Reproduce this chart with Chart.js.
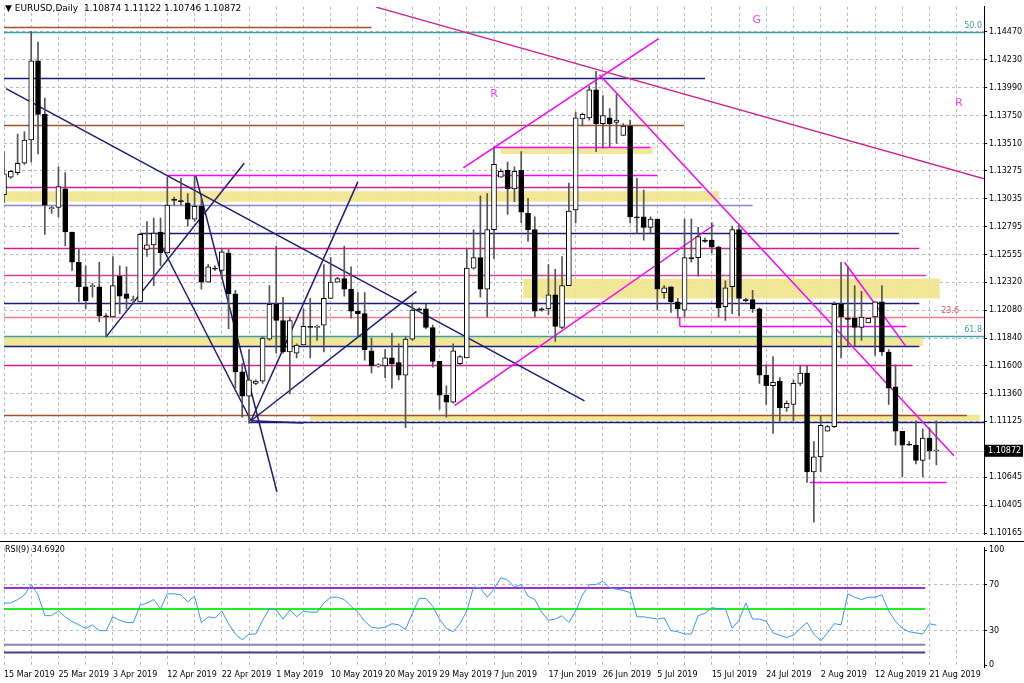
<!DOCTYPE html>
<html>
<head>
<meta charset="utf-8">
<script src="https://cdn.jsdelivr.net/npm/chart.js@4.4.0/dist/chart.umd.min.js"></script>
<style>
  body { margin: 0; background: #fff; width: 1024px; height: 683px; overflow: hidden; }
  #wrapMain { position: absolute; left: 0; top: 0; width: 1024px; height: 541px; }
  #wrapRsi { position: absolute; left: 0; top: 541px; width: 1024px; height: 142px; }
</style>
</head>
<body>
<div id="wrapMain"><canvas id="priceChart"></canvas></div>
<div id="wrapRsi"><canvas id="rsiChart"></canvas></div>
<script>
// EURUSD daily, 15 Mar - 21 Aug 2019 (MT4 bars incl. Sunday candles)
const dateLabels = ['15 Mar 2019', '25 Mar 2019', '3 Apr 2019', '12 Apr 2019', '22 Apr 2019', '1 May 2019',
  '10 May 2019', '20 May 2019', '29 May 2019', '7 Jun 2019', '17 Jun 2019', '26 Jun 2019', '5 Jul 2019',
  '15 Jul 2019', '24 Jul 2019', '2 Aug 2019', '12 Aug 2019', '21 Aug 2019'];

const opens = [1.1307,1.1322,1.1326,1.1334,1.1354,1.1422,1.1376,1.1295,1.1296,1.1312,
  1.1275,1.1249,1.1228,1.1228,1.1228,1.1203,1.1202,1.1237,1.1222,1.1216,
  1.1215,1.1260,1.1264,1.1275,1.1257,1.1303,1.1302,1.1300,1.1286,1.1297,
  1.1232,1.1244,1.1242,1.1257,1.1222,1.1155,1.1134,1.1145,1.1147,1.1183,
  1.1213,1.1199,1.1172,1.1171,1.1178,1.1194,1.1193,1.1195,1.1218,1.1232,
  1.1235,1.1226,1.1207,1.1205,1.1173,1.1160,1.1160,1.1167,1.1163,1.1152,
  1.1183,1.1209,1.1209,1.1193,1.1164,1.1135,1.1129,1.1162,1.1167,1.1244,
  1.1253,1.1226,1.1277,1.1322,1.1328,1.1312,1.1328,1.1291,1.1277,1.1209,
  1.1209,1.1221,1.1193,1.1229,1.1294,1.1372,1.1373,1.1397,1.1368,1.1373,
  1.1369,1.1358,1.1366,1.1288,1.1288,1.1279,1.1286,1.1223,1.1228,1.1215,
  1.1208,1.1253,1.1253,1.1268,1.1268,1.1262,1.1211,1.1228,1.1277,1.1217,
  1.1217,1.1209,1.1152,1.1143,1.1147,1.1124,1.1127,1.1145,1.1154,1.1069,
  1.1082,1.1104,1.1108,1.1213,1.1201,1.1201,1.1193,1.1197,1.1202,1.1215,
  1.1172,1.1142,1.1104,1.1093,1.1092,1.1079,1.1098,1.1087];
const highs = [1.1344,1.1328,1.1359,1.1361,1.1447,1.1438,1.1390,1.1297,1.1331,1.1326,
  1.1275,1.1260,1.1246,1.1231,1.1249,1.1205,1.1254,1.1246,1.1245,1.1220,
  1.1274,1.1284,1.1287,1.1287,1.1322,1.1305,1.1321,1.1308,1.1323,1.1304,
  1.1247,1.1246,1.1261,1.1260,1.1225,1.1162,1.1174,1.1148,1.1185,1.1229,
  1.1263,1.1219,1.1202,1.1179,1.1209,1.1218,1.1195,1.1247,1.1253,1.1236,
  1.1263,1.1245,1.1223,1.1223,1.1184,1.1162,1.1174,1.1188,1.1179,1.1185,
  1.1213,1.1210,1.1213,1.1195,1.1164,1.1143,1.1179,1.1169,1.1261,1.1277,
  1.1306,1.1308,1.1348,1.1329,1.1335,1.1331,1.1344,1.1304,1.1288,1.1210,
  1.1247,1.1243,1.1254,1.1317,1.1378,1.1377,1.1400,1.1413,1.1392,1.1381,
  1.1393,1.1368,1.1371,1.1321,1.1311,1.1288,1.1286,1.1229,1.1228,1.1218,
  1.1286,1.1286,1.1279,1.1270,1.1283,1.1263,1.1233,1.1280,1.1281,1.1218,
  1.1225,1.1210,1.1161,1.1168,1.1150,1.1130,1.1148,1.1160,1.1160,1.1095,
  1.1117,1.1109,1.1215,1.1249,1.1245,1.1229,1.1224,1.1201,1.1215,1.1229,
  1.1174,1.1161,1.1104,1.1095,1.1113,1.1106,1.1107,1.1113];
const lows = [1.1300,1.1321,1.1324,1.1333,1.1335,1.1342,1.1273,1.1291,1.1288,1.1263,
  1.1242,1.1215,1.1209,1.1219,1.1198,1.1185,1.1202,1.1205,1.1209,1.1213,
  1.1215,1.1254,1.1229,1.1246,1.1257,1.1298,1.1298,1.1280,1.1284,1.1226,
  1.1232,1.1242,1.1235,1.1192,1.1141,1.1116,1.1111,1.1144,1.1145,1.1182,
  1.1171,1.1171,1.1136,1.1167,1.1178,1.1167,1.1182,1.1172,1.1218,1.1232,
  1.1220,1.1201,1.1186,1.1165,1.1154,1.1159,1.1150,1.1141,1.1148,1.1107,
  1.1182,1.1207,1.1192,1.1159,1.1123,1.1116,1.1128,1.1161,1.1167,1.1243,
  1.1219,1.1202,1.1252,1.1322,1.1290,1.1301,1.1283,1.1267,1.1202,1.1207,
  1.1204,1.1181,1.1192,1.1229,1.1283,1.1366,1.1371,1.1344,1.1347,1.1348,
  1.1351,1.1358,1.1283,1.1274,1.1268,1.1274,1.1208,1.1218,1.1206,1.1201,
  1.1202,1.1249,1.1237,1.1266,1.1257,1.1202,1.1199,1.1205,1.1203,1.1215,
  1.1206,1.1145,1.1127,1.1102,1.1113,1.1121,1.1113,1.1143,1.1060,1.1026,
  1.1069,1.1104,1.1107,1.1167,1.1177,1.1177,1.1182,1.1197,1.1169,1.1169,
  1.1127,1.1092,1.1065,1.1092,1.1076,1.1065,1.1080,1.1075];
const closes = [1.1325,1.1327,1.1334,1.1354,1.1422,1.1376,1.1298,1.1296,1.1314,1.1275,
  1.1249,1.1228,1.1216,1.1229,1.1203,1.1202,1.1229,1.1220,1.1218,1.1217,
  1.1273,1.1264,1.1274,1.1257,1.1298,1.1302,1.1301,1.1286,1.1297,1.1232,
  1.1245,1.1243,1.1258,1.1222,1.1155,1.1134,1.1148,1.1147,1.1184,1.1213,
  1.1199,1.1172,1.1199,1.1178,1.1194,1.1193,1.1194,1.1218,1.1232,1.1235,
  1.1226,1.1207,1.1205,1.1174,1.1160,1.1161,1.1167,1.1162,1.1152,1.1183,
  1.1208,1.1208,1.1193,1.1164,1.1135,1.1129,1.1173,1.1168,1.1244,1.1253,
  1.1226,1.1277,1.1333,1.1327,1.1312,1.1327,1.1292,1.1277,1.1207,1.1208,
  1.1221,1.1194,1.1229,1.1293,1.1373,1.1376,1.1397,1.1368,1.1375,1.1368,
  1.1371,1.1366,1.1288,1.1287,1.1279,1.1286,1.1226,1.1227,1.1215,1.1209,
  1.1253,1.1252,1.1271,1.1267,1.1262,1.1210,1.1227,1.1277,1.1218,1.1216,
  1.1209,1.1152,1.1143,1.1146,1.1124,1.1128,1.1145,1.1154,1.1069,1.1082,
  1.1109,1.1108,1.1213,1.1202,1.1200,1.1193,1.1202,1.1201,1.1215,1.1172,
  1.1141,1.1104,1.1092,1.1092,1.1079,1.1098,1.1087,1.10872];

const rsiValues = [54,54,57,61,70,61,43,43,47,42,
  38,35,32,35,30,30,42,39,37,37,
  52,54,57,49,62,62,61,55,60,37,
  42,41,47,36,27,22,27,27,39,49,
  48,40,48,42,47,46,46,54,59,59,
  57,51,46,38,33,32,33,36,35,31,
  45,58,58,51,40,32,29,36,47,68,
  67,59,66,76,74,68,70,60,57,46,
  39,40,43,37,47,61,70,70,73,67,
  66,65,63,42,42,41,40,41,30,29,
  27,27,43,45,50,49,49,32,39,54,
  40,40,38,28,26,24,26,32,37,27,
  21,28,36,35,62,59,57,59,59,61,
  47,38,32,29,28,27,36,34.69];

const priceTicks = [1.10165,1.10405,1.10645,1.11125,1.11360,1.11600,1.11840,1.12080,1.12320,
  1.12555,1.12795,1.13035,1.13275,1.13510,1.13750,1.13990,1.14230,1.14470];
const rsiTicks = [0, 30, 70, 100];
const rsiLevels = [67, 48.7, 17.7, 10.9];
const rsiLevelColors = ['#9b30d0', '#22ee22', '#8a84b8', '#4b3f8a'];

// drawn objects: [price, colour, fromBar, toBar]
const hLines = [
  [1.1451, '#a0522d', 0, 54], [1.1447, '#3aa0a8', 0, 150], [1.1407, '#1c1c7a', 0, 103],
  [1.1367, '#a0522d', 0, 100], [1.1324, '#ff00ff', 24, 96], [1.1314, '#d02090', 0, 102.5],
  [1.1298, '#8a84c8', 0, 110], [1.1274, '#1c1c7a', 20, 131.5], [1.1261, '#d02090', 0, 134.5],
  [1.1238, '#d0409a', 0, 135.5], [1.1214, '#1c1c7a', 0, 134.5], [1.1202, '#f08090', 0, 150],
  [1.1186, '#3aa0a8', 0, 150], [1.1177, '#1c1c7a', 0, 134.5], [1.1161, '#d02090', 0, 133.5],
  [1.1118, '#a0522d', 0, 141.5], [1.1112, '#1c1c7a', 36, 150], [1.1060, '#ff00ff', 118.4, 138.5],
  [1.1348, '#ff00ff', 72, 95], [1.1194, '#ff00ff', 99.3, 132.6]
];
// zones: [top, bottom, fromBar, toBar]
const zones = [
  [1.1310, 1.1301, 0, 105], [1.1185, 1.1177, 0, 135], [1.1118, 1.1113, 45, 143.4],
  [1.1235, 1.1218, 76.3, 137.5], [1.1347, 1.1342, 73, 95.3]
];
// trend lines: [bar1, price1, bar2, price2, colour]
const trends = [
  [0.3, 1.1398, 85.3, 1.1130, '#1c1c7a'], [15, 1.1185, 35.3, 1.1334, '#1c1c7a'],
  [22.9, 1.1266, 36.3, 1.1113, '#1c1c7a'], [36.3, 1.1113, 44, 1.1111, '#1c1c7a'],
  [28.2, 1.1323, 40.1, 1.1052, '#1c1c7a'], [36.3, 1.1113, 52, 1.1318, '#1c1c7a'],
  [36.3, 1.1113, 60.6, 1.1224, '#1c1c7a'],
  [67.5, 1.1330, 96.2, 1.1441, '#ff00ff'],
  [87.5, 1.1410, 139.6, 1.1083, '#ff00ff'], [66.2, 1.1126, 104.3, 1.1281, '#ff00ff'],
  [123.5, 1.1249, 132.5, 1.1177, '#ff00ff'], [54.7, 1.1468, 144.4, 1.1320, '#d02090'],
  [-0.5, 1.1470, 5, 1.1490, '#22dd22']
];
const lastPrice = 1.10872;

const nBars = 145; // chart is shifted: empty space right of last bar
const labels = [];
for (let i = 0; i < nBars; i++) labels.push(i % 8 === 0 ? (dateLabels[i / 8] || '') : '');

const tickFont = { family: 'DejaVu Sans', size: 8 };
const gridCol = '#b4bccc';

function xAxis(showTicks) {
  return {
    offset: false,
    grid: { offset: false, color: c => (c.index % 4 === 0 ? gridCol : 'transparent'), drawTicks: false },
    border: { display: false, dash: [3, 3] },
    ticks: { display: showTicks, autoSkip: false, maxRotation: 0, font: tickFont, color: '#000', padding: 3,
      align: 'start', callback: (v, i) => labels[i] }
  };
}

const overlay = {
  id: 'overlay',
  beforeDatasetsDraw(chart) {
    const { ctx, chartArea: a, scales: { x, y } } = chart;
    ctx.save();
    ctx.beginPath(); ctx.rect(a.left, a.top, a.right - a.left, a.bottom - a.top); ctx.clip();
    ctx.fillStyle = 'rgba(240,228,140,0.9)';
    zones.forEach(z => {
      const y1 = y.getPixelForValue(z[0]), y2 = y.getPixelForValue(z[1]);
      const x1 = x.getPixelForValue(z[2]), x2 = x.getPixelForValue(z[3]);
      ctx.fillRect(x1, y1, x2 - x1, y2 - y1);
    });
    ctx.lineWidth = 1.5;
    hLines.forEach(h => {
      const py = Math.round(y.getPixelForValue(h[0])) + 0.5;
      ctx.strokeStyle = h[1];
      ctx.beginPath(); ctx.moveTo(x.getPixelForValue(h[2]), py); ctx.lineTo(x.getPixelForValue(h[3]), py); ctx.stroke();
    });
    // small vertical tick at start of lower magenta line
    ctx.strokeStyle = '#ff00ff';
    ctx.beginPath(); ctx.moveTo(x.getPixelForValue(99.3), y.getPixelForValue(1.1202));
    ctx.lineTo(x.getPixelForValue(99.3), y.getPixelForValue(1.1194)); ctx.stroke();
    ctx.strokeStyle = '#c0c0c0'; ctx.lineWidth = 1;
    const lp = Math.round(y.getPixelForValue(lastPrice)) + 0.5;
    ctx.beginPath(); ctx.moveTo(a.left, lp); ctx.lineTo(a.right, lp); ctx.stroke();
    ctx.lineWidth = 1.5;
    trends.forEach(t => {
      ctx.strokeStyle = t[4];
      ctx.beginPath();
      ctx.moveTo(x.getPixelForValue(t[0]), y.getPixelForValue(t[1]));
      ctx.lineTo(x.getPixelForValue(t[2]), y.getPixelForValue(t[3]));
      ctx.stroke();
    });
    ctx.restore();
  },
  afterDraw(chart) {
    const { ctx, chartArea: a, scales: { x, y } } = chart;
    ctx.save();
    ctx.font = '9px DejaVu Sans';
    ctx.fillStyle = '#000';
    ctx.textBaseline = 'middle';
    ctx.fillText('\u25BC EURUSD,Daily  1.10874 1.11122 1.10746 1.10872', 5, 9);
    ctx.font = '8px DejaVu Sans';
    ctx.textAlign = 'right';
    ctx.fillStyle = '#3aa0a8';
    ctx.fillText('50.0', a.right - 2, y.getPixelForValue(1.1447) - 6);
    ctx.fillText('61.8', a.right - 2, y.getPixelForValue(1.1186) - 6);
    ctx.fillStyle = '#e05060';
    ctx.fillText('23.6', a.right - 25, y.getPixelForValue(1.1202) - 6);
    ctx.font = '11px DejaVu Sans';
    ctx.fillStyle = '#ff40ff';
    ctx.textAlign = 'center';
    ctx.fillText('R', x.getPixelForValue(72), y.getPixelForValue(1.1393));
    ctx.fillText('R', x.getPixelForValue(140.3), y.getPixelForValue(1.1386));
    ctx.fillText('G', x.getPixelForValue(110.6), y.getPixelForValue(1.1457));
    // last price tag
    const lp = y.getPixelForValue(lastPrice);
    ctx.fillStyle = '#000';
    ctx.fillRect(a.right + 1, lp - 6, 38, 12);
    ctx.fillStyle = '#fff';
    ctx.font = '8px DejaVu Sans';
    ctx.textAlign = 'left';
    ctx.fillText(lastPrice.toFixed(5), a.right + 4, lp);
    ctx.restore();
  }
};

const bodyData = opens.map((o, i) => [o, closes[i]]);
const wickData = lows.map((l, i) => [l, highs[i]]);

new Chart(document.getElementById('priceChart'), {
  type: 'bar',
  data: {
    labels: labels,
    datasets: [
      { data: bodyData, grouped: false, order: 0, barThickness: 5, minBarLength: 1,
        backgroundColor: closes.map((c, i) => (c >= opens[i] ? '#fff' : '#000')),
        borderColor: '#000', borderWidth: 1, borderSkipped: false },
      { data: wickData, grouped: false, order: 1, barThickness: 1, backgroundColor: '#555', borderWidth: 0 }
    ]
  },
  options: {
    responsive: true, maintainAspectRatio: false, animation: false,
    layout: { padding: { left: 4, top: 2, right: 0, bottom: 0 } },
    plugins: { legend: { display: false }, tooltip: { enabled: false } },
    scales: {
      x: xAxis(false),
      y: {
        position: 'right', min: 1.10156, max: 1.14683,
        afterBuildTicks: s => { s.ticks = priceTicks.map(v => ({ value: v })); },
        afterFit: s => { s.width = 40; },
        grid: { color: gridCol, tickLength: 3, tickColor: '#000' },
        border: { color: '#000', dash: [3, 3] },
        ticks: { font: tickFont, color: '#000', padding: 2, callback: v => v.toFixed(5) }
      }
    }
  },
  plugins: [overlay]
});

const rsiOverlay = {
  id: 'rsiOverlay',
  beforeDatasetsDraw(chart) {
    const { ctx, chartArea: a, scales: { y } } = chart;
    ctx.save();
    ctx.lineWidth = 2;
    rsiLevels.forEach((lv, i) => {
      const py = y.getPixelForValue(lv);
      ctx.strokeStyle = rsiLevelColors[i];
      ctx.beginPath(); ctx.moveTo(a.left, py); ctx.lineTo(a.left + (a.right - a.left) * 0.94, py); ctx.stroke();
    });
    ctx.restore();
  },
  afterDraw(chart) {
    const { ctx } = chart;
    ctx.save();
    ctx.font = '8px DejaVu Sans';
    ctx.fillStyle = '#000';
    ctx.textBaseline = 'middle';
    ctx.fillText('RSI(9) 34.6920', 5, 9);
    ctx.strokeStyle = '#000'; ctx.lineWidth = 1;
    ctx.beginPath(); ctx.moveTo(0, 0.5); ctx.lineTo(1024, 0.5); ctx.stroke();
    ctx.restore();
  }
};

new Chart(document.getElementById('rsiChart'), {
  type: 'line',
  data: {
    labels: labels,
    datasets: [{ data: rsiValues, borderColor: '#3399ff', borderWidth: 1, pointRadius: 0, tension: 0 }]
  },
  options: {
    responsive: true, maintainAspectRatio: false, animation: false,
    layout: { padding: { left: 4, top: 2, right: 0, bottom: 0 } },
    plugins: { legend: { display: false }, tooltip: { enabled: false } },
    scales: {
      x: xAxis(true),
      y: {
        position: 'right', min: -2, max: 102,
        afterBuildTicks: s => { s.ticks = rsiTicks.map(v => ({ value: v })); },
        afterFit: s => { s.width = 40; },
        grid: { color: c => (c.tick.value === 30 || c.tick.value === 70 ? gridCol : 'transparent'), tickLength: 3, tickColor: '#000' },
        border: { color: '#000', dash: [3, 3] },
        ticks: { font: tickFont, color: '#000', padding: 2 }
      }
    }
  },
  plugins: [rsiOverlay]
});
</script>
</body>
</html>
